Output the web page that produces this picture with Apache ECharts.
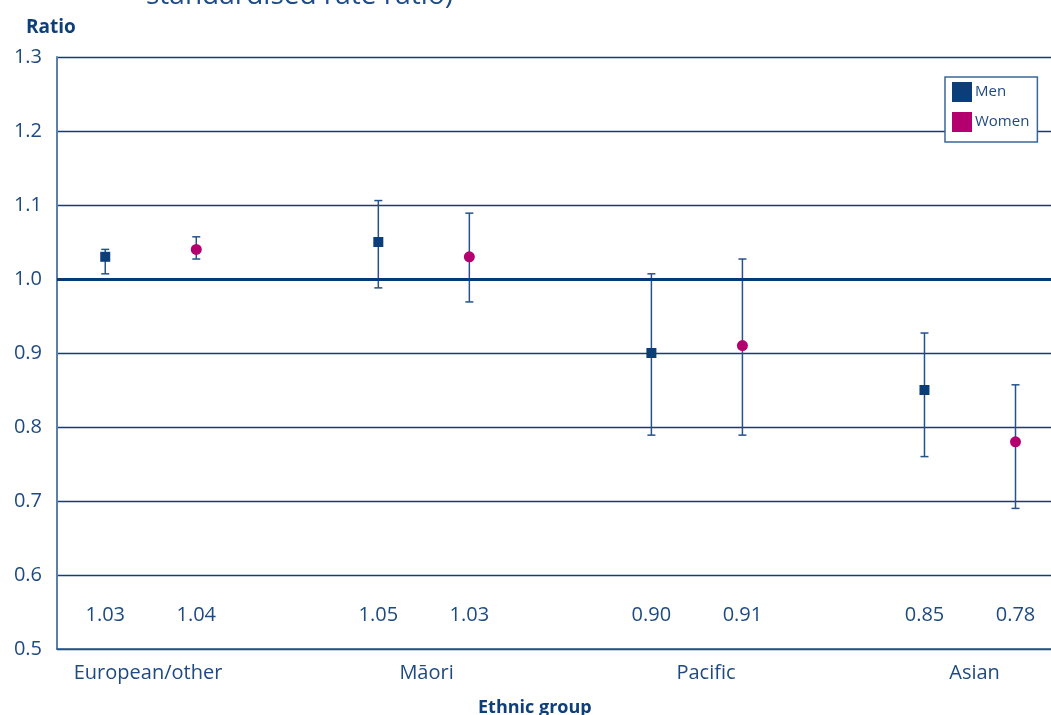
<!DOCTYPE html>
<html>
<head>
<meta charset="utf-8">
<style>
  html, body { margin: 0; padding: 0; background: #ffffff; }
  #chart { width: 1051px; height: 715px; }
</style>
<script src="https://cdn.jsdelivr.net/npm/echarts@6/dist/echarts.min.js"></script>
</head>
<body>
<div id="chart"></div>
<script>
// Ethnic groups and the slot position of each group's label on the x scale
const groups = ['European/other', 'Māori', 'Pacific', 'Asian'];
const groupLabelPos = [0.47, 3.53, 6.6, 9.55];

// Men and women sit in neighbouring slots, with a gap slot between groups
const menSlots = [0, 3, 6, 9];
const womenSlots = [1, 4, 7, 10];

// Age-standardised rate ratios with 95% confidence limits
const menRatio = [1.03, 1.05, 0.90, 0.85];
const menLow = [1.007, 0.988, 0.789, 0.760];
const menHigh = [1.040, 1.106, 1.007, 0.927];

const womenRatio = [1.04, 1.03, 0.91, 0.78];
const womenLow = [1.027, 0.969, 0.789, 0.690];
const womenHigh = [1.057, 1.089, 1.027, 0.857];

const yTicks = [0.5, 0.6, 0.7, 0.8, 0.9, 1.0, 1.1, 1.2, 1.3];

const NAVY = '#0b3d78';
const MAGENTA = '#b4006e';
const TEXT = '#1f4a80';
const FONT = '"Open Sans", "Noto Sans", sans-serif';

// y position (in ratio units) of the printed value row
const VALUE_ROW_Y = 0.545;

const chart = echarts.init(document.getElementById('chart'), null, { renderer: 'canvas' });

function errorBarData(slots, low, high, ratio) {
  return slots.map((s, i) => [s, low[i], high[i], ratio[i]]);
}

function renderErrorBar(params, api) {
  const x = api.value(0);
  const top = api.coord([x, api.value(2)]);
  const bot = api.coord([x, api.value(1)]);
  const lab = api.coord([x, VALUE_ROW_Y]);
  const cap = 4;
  const stroke = { stroke: '#24538a', lineWidth: 1.5 };
  return {
    type: 'group',
    children: [
      { type: 'line', shape: { x1: top[0], y1: top[1], x2: bot[0], y2: bot[1] }, style: stroke },
      { type: 'line', shape: { x1: top[0] - cap, y1: top[1], x2: top[0] + cap, y2: top[1] }, style: stroke },
      { type: 'line', shape: { x1: bot[0] - cap, y1: bot[1], x2: bot[0] + cap, y2: bot[1] }, style: stroke },
      {
        type: 'text',
        style: {
          x: lab[0], y: lab[1],
          text: api.value(3).toFixed(2),
          align: 'center', verticalAlign: 'middle',
          font: '20px ' + FONT, fill: TEXT
        }
      }
    ]
  };
}

const option = {
  animation: false,
  backgroundColor: '#ffffff',
  grid: { left: 57, right: 0, top: 57, bottom: 66, containLabel: false },
  graphic: [
    {
      type: 'text', left: 146, top: -18, silent: true,
      style: { text: 'standardised rate ratio)', font: '28px ' + FONT, fill: '#1c4c8a' }
    },
    {
      type: 'text', left: 26, top: 18, silent: true,
      style: { text: 'Ratio', font: 'bold 19px ' + FONT, fill: '#0f3f7a' }
    },
    {
      type: 'text', left: 478, top: 699, silent: true,
      style: { text: 'Ethnic group', font: 'bold 18px ' + FONT, fill: '#0f3f7a' }
    }
  ],
  legend: {
    orient: 'vertical',
    left: 945, top: 77,
    itemWidth: 20, itemHeight: 20, itemGap: 10,
    padding: [5, 8, 10, 7],
    borderColor: '#3c6596', borderWidth: 1.5,
    backgroundColor: '#ffffff',
    textStyle: { fontFamily: FONT, fontSize: 15, color: TEXT, padding: [0, 0, 0, -2] },
    data: [
      { name: 'Men', icon: 'rect' },
      { name: 'Women', icon: 'rect' }
    ]
  },
  xAxis: {
    type: 'value',
    min: -0.53, max: 10.39,
    splitLine: { show: false },
    axisTick: { show: false },
    axisLine: { show: true, onZero: false, lineStyle: { color: '#2c5889', width: 1.5 } },
    axisLabel: {
      show: true,
      customValues: groupLabelPos,
      formatter: (v) => {
        const i = groupLabelPos.findIndex(p => Math.abs(p - v) < 1e-6);
        return i >= 0 ? groups[i] : '';
      },
      margin: 14,
      fontFamily: FONT, fontSize: 20, color: TEXT
    }
  },
  yAxis: {
    type: 'value',
    min: 0.5, max: 1.3, interval: 0.1,
    axisLine: { show: true, onZero: false, lineStyle: { color: '#5d80aa', width: 2 } },
    axisTick: { show: false },
    splitLine: { show: true, lineStyle: { color: '#0f3f7a', width: 1.3 } },
    axisLabel: {
      margin: 15,
      formatter: (v) => {
        const t = yTicks.find(k => Math.abs(k - v) < 1e-6);
        return (t !== undefined ? t : v).toFixed(1);
      },
      fontFamily: FONT, fontSize: 20, color: TEXT
    }
  },
  series: [
    {
      name: 'Men bars', type: 'custom', silent: true, z: 3,
      renderItem: renderErrorBar,
      data: errorBarData(menSlots, menLow, menHigh, menRatio),
      markLine: {
        silent: true, symbol: 'none', label: { show: false },
        lineStyle: { color: '#063a77', width: 3, type: 'solid' },
        data: [{ yAxis: 1.0 }]
      }
    },
    {
      name: 'Women bars', type: 'custom', silent: true, z: 3,
      renderItem: renderErrorBar,
      data: errorBarData(womenSlots, womenLow, womenHigh, womenRatio)
    },
    {
      name: 'Men', type: 'scatter', z: 5,
      symbol: 'rect', symbolSize: 10,
      itemStyle: { color: NAVY, opacity: 1 },
      data: menSlots.map((s, i) => [s, menRatio[i]])
    },
    {
      name: 'Women', type: 'scatter', z: 5,
      symbol: 'circle', symbolSize: 11,
      itemStyle: { color: MAGENTA, opacity: 1 },
      data: womenSlots.map((s, i) => [s, womenRatio[i]])
    }
  ]
};

chart.setOption(option);
</script>
</body>
</html>
